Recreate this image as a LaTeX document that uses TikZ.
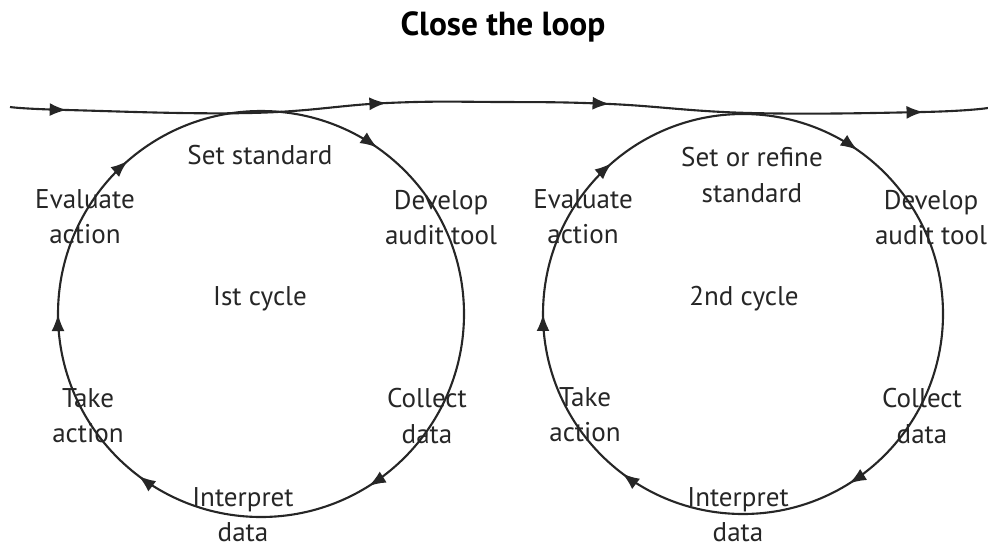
\documentclass[tikz,border=0pt]{standalone}
\usepackage{fontspec}
\setmainfont{PT Sans}
\usetikzlibrary{arrows.meta,decorations.markings}

\begin{document}
\begin{tikzpicture}[x=1cm,y=1cm,
  lbl/.style={align=center,inner sep=0pt,text=black!85,font=\fontsize{7.7}{10}\selectfont},
  ttl/.style={inner sep=0pt,font=\fontsize{9.5}{11}\selectfont\bfseries},
  loopline/.style={line width=0.6pt,black!85},
  cycarrows/.style={decoration={markings,
      mark=at position 0.097 with {\arrow{Latex[length=1.7mm,width=1.3mm]}},
      mark=at position 0.411 with {\arrow{Latex[length=1.7mm,width=1.3mm]}},
      mark=at position 0.603 with {\arrow{Latex[length=1.7mm,width=1.3mm]}},
      mark=at position 0.750 with {\arrow{Latex[length=1.7mm,width=1.3mm]}},
      mark=at position 0.886 with {\arrow{Latex[length=1.7mm,width=1.3mm]}}},
    postaction={decorate}},
  toparrows/.style={decoration={markings,
      mark=at position 0.058 with {\arrow{Latex[length=1.7mm,width=1.3mm]}},
      mark=at position 0.385 with {\arrow{Latex[length=1.7mm,width=1.3mm]}},
      mark=at position 0.613 with {\arrow{Latex[length=1.7mm,width=1.3mm]}},
      mark=at position 0.934 with {\arrow{Latex[length=1.7mm,width=1.3mm]}}},
    postaction={decorate}}]
\useasboundingbox (0,0) rectangle (9.88,5.45);

\node[ttl] (title) at (5.03,5.18) {Close the loop};

\draw[loopline,toparrows] plot[smooth,tension=0.7] coordinates
  {(0.10,4.38) (0.67,4.35) (2.50,4.32) (3.87,4.42) (5.00,4.43)
   (6.10,4.41) (7.50,4.32) (9.23,4.33) (9.88,4.37)};

\draw[loopline,cycarrows] (2.61,2.31) ++(90:2.03) arc[start angle=90,end angle=-270,radius=2.03];
\draw[loopline,cycarrows] (7.43,2.31) ++(90:2.00) arc[start angle=90,end angle=-270,radius=2.00];

\node[lbl] (set1) at (2.60,3.90) {Set standard};
\node[lbl] (eval1) at (0.85,3.28) {Evaluate\\action};
\node[lbl] (dev1) at (4.41,3.27) {Develop\\audit tool};
\node[lbl] (cyc1) at (2.60,2.46) {Ist cycle};
\node[lbl] (take1) at (0.88,1.29) {Take\\action};
\node[lbl] (coll1) at (4.27,1.29) {Collect\\data};
\node[lbl] (intp1) at (2.43,0.30) {Interpret\\data};

\node[lbl] (set2) at (7.52,3.70) {Set or refine\\standard};
\node[lbl] (eval2) at (5.83,3.28) {Evaluate\\action};
\node[lbl] (dev2) at (9.31,3.27) {Develop\\audit tool};
\node[lbl] (cyc2) at (7.44,2.46) {2nd cycle};
\node[lbl] (take2) at (5.85,1.30) {Take\\action};
\node[lbl] (coll2) at (9.22,1.29) {Collect\\data};
\node[lbl] (intp2) at (7.38,0.30) {Interpret\\data};
\end{tikzpicture}
\end{document}
